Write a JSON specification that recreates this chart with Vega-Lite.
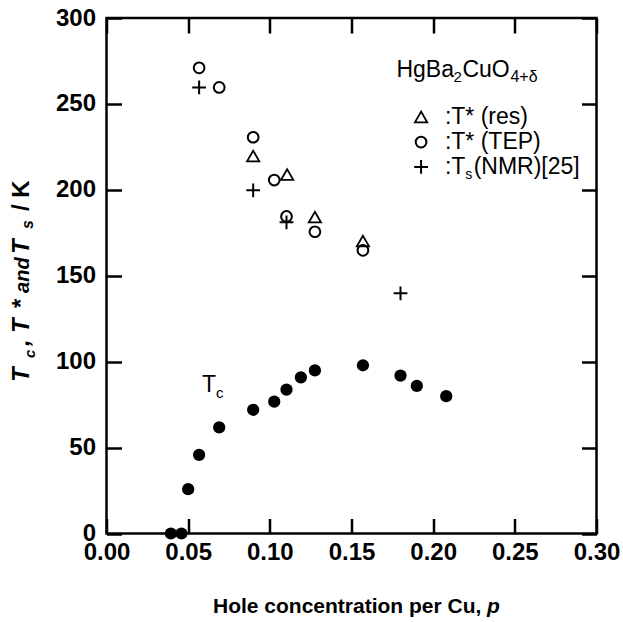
{
  "$schema": "https://vega.github.io/schema/vega-lite/v6.json",
  "autosize": {"type": "none"},
  "padding": {"left": 106.5, "top": 18, "right": 26.5, "bottom": 88.5},
  "width": 490,
  "height": 515.5,
  "background": "white",
  "config": {
    "view": {"stroke": "black", "strokeWidth": 2.5},
    "font": "Liberation Sans",
    "axis": {
      "domain": false, "grid": false, "tickColor": "black", "tickWidth": 2.5, "tickSize": -15,
      "labelFont": "Liberation Sans", "labelFontWeight": "bold", "labelFontSize": 24, "labelColor": "black",
      "labelFlush": false, "labelOverlap": false, "labelBound": false, "title": null
    }
  },
  "datasets": {
    "tc": [
      {"p": 0.0394, "T": 0}, {"p": 0.0459, "T": 0}, {"p": 0.050, "T": 25.8}, {"p": 0.0567, "T": 45.8},
      {"p": 0.069, "T": 61.8}, {"p": 0.0898, "T": 72}, {"p": 0.1027, "T": 76.7}, {"p": 0.1102, "T": 83.7},
      {"p": 0.119, "T": 90.9}, {"p": 0.1276, "T": 94.9}, {"p": 0.157, "T": 97.9}, {"p": 0.180, "T": 91.9},
      {"p": 0.190, "T": 85.9}, {"p": 0.208, "T": 79.9}
    ],
    "tep": [
      {"p": 0.0567, "T": 271}, {"p": 0.069, "T": 259.6}, {"p": 0.0898, "T": 230.6}, {"p": 0.1027, "T": 205.7},
      {"p": 0.1102, "T": 184.5}, {"p": 0.1276, "T": 175.6}, {"p": 0.157, "T": 164.8}
    ],
    "res": [
      {"p": 0.0898, "T": 219.7}, {"p": 0.1106, "T": 208.9}, {"p": 0.1276, "T": 184.1}, {"p": 0.157, "T": 170.2}
    ],
    "nmr": [
      {"p": 0.0567, "T": 259.6}, {"p": 0.0898, "T": 199.7}, {"p": 0.1102, "T": 181.1}, {"p": 0.180, "T": 139.8}
    ],
    "one": [{}]
  },
  "resolve": {"axis": {"x": "independent", "y": "independent"}},
  "layer": [
    {
      "data": {"name": "tc"},
      "mark": {"type": "circle", "size": 150, "color": "black", "opacity": 1},
      "encoding": {
        "x": {"field": "p", "type": "quantitative", "scale": {"domain": [0, 0.3], "nice": false, "zero": false},
              "axis": {"orient": "bottom", "values": [0, 0.05, 0.1, 0.15, 0.2, 0.25, 0.3], "format": ".2f", "labelPadding": 22}},
        "y": {"field": "T", "type": "quantitative", "scale": {"domain": [0, 300], "nice": false, "zero": false},
              "axis": {"orient": "left", "values": [0, 50, 100, 150, 200, 250, 300], "labelPadding": 26}}
      }
    },
    {
      "data": {"name": "res"},
      "mark": {"type": "point", "shape": "triangle-up", "filled": false, "color": "black", "strokeWidth": 1.8, "size": 150, "opacity": 1},
      "encoding": {
        "x": {"field": "p", "type": "quantitative", "scale": {"domain": [0, 0.3], "nice": false, "zero": false},
              "axis": {"orient": "top", "values": [0, 0.05, 0.1, 0.15, 0.2, 0.25, 0.3], "labels": false}},
        "y": {"field": "T", "type": "quantitative", "scale": {"domain": [0, 300], "nice": false, "zero": false},
              "axis": {"orient": "right", "values": [0, 50, 100, 150, 200, 250, 300], "labels": false}}
      }
    },
    {
      "data": {"name": "tep"},
      "mark": {"type": "point", "shape": "circle", "filled": false, "color": "black", "strokeWidth": 2, "size": 115, "opacity": 1},
      "encoding": {
        "x": {"field": "p", "type": "quantitative", "scale": {"domain": [0, 0.3], "nice": false, "zero": false}, "axis": null},
        "y": {"field": "T", "type": "quantitative", "scale": {"domain": [0, 300], "nice": false, "zero": false}, "axis": null}
      }
    },
    {
      "data": {"name": "nmr"},
      "mark": {"type": "point", "shape": "M-1,0H1M0,-1V1", "filled": false, "color": "black", "strokeWidth": 2, "size": 190, "opacity": 1},
      "encoding": {
        "x": {"field": "p", "type": "quantitative", "scale": {"domain": [0, 0.3], "nice": false, "zero": false}, "axis": null},
        "y": {"field": "T", "type": "quantitative", "scale": {"domain": [0, 300], "nice": false, "zero": false}, "axis": null}
      }
    },
    {
      "data": {"name": "one"},
      "mark": {"type": "point", "shape": "triangle-up", "filled": false, "color": "black", "strokeWidth": 1.8, "size": 150, "opacity": 1},
      "encoding": {
        "x": {"datum": 0.1926, "type": "quantitative", "scale": {"domain": [0, 0.3], "nice": false, "zero": false}, "axis": null},
        "y": {"datum": 242.4, "type": "quantitative", "scale": {"domain": [0, 300], "nice": false, "zero": false}, "axis": null}
      }
    },
    {
      "data": {"name": "one"},
      "mark": {"type": "point", "shape": "circle", "filled": false, "color": "black", "strokeWidth": 2, "size": 115, "opacity": 1},
      "encoding": {
        "x": {"datum": 0.1926, "type": "quantitative", "scale": {"domain": [0, 0.3], "nice": false, "zero": false}, "axis": null},
        "y": {"datum": 227.8, "type": "quantitative", "scale": {"domain": [0, 300], "nice": false, "zero": false}, "axis": null}
      }
    },
    {
      "data": {"name": "one"},
      "mark": {"type": "point", "shape": "M-1,0H1M0,-1V1", "filled": false, "color": "black", "strokeWidth": 2, "size": 190, "opacity": 1},
      "encoding": {
        "x": {"datum": 0.1926, "type": "quantitative", "scale": {"domain": [0, 0.3], "nice": false, "zero": false}, "axis": null},
        "y": {"datum": 213.3, "type": "quantitative", "scale": {"domain": [0, 300], "nice": false, "zero": false}, "axis": null}
      }
    },
    {
      "data": {"name": "one"},
      "mark": {"type": "text", "text": "HgBa", "align": "left", "baseline": "alphabetic", "fontSize": 23, "color": "black"},
      "encoding": {
        "x": {"datum": 0.1775, "type": "quantitative", "scale": {"domain": [0, 0.3], "nice": false, "zero": false}, "axis": null},
        "y": {"datum": 265.7, "type": "quantitative", "scale": {"domain": [0, 300], "nice": false, "zero": false}, "axis": null}
      }
    },
    {
      "data": {"name": "one"},
      "mark": {"type": "text", "text": "2", "align": "left", "baseline": "alphabetic", "fontSize": 15, "color": "black"},
      "encoding": {
        "x": {"datum": 0.2124, "type": "quantitative", "scale": {"domain": [0, 0.3], "nice": false, "zero": false}, "axis": null},
        "y": {"datum": 262.8, "type": "quantitative", "scale": {"domain": [0, 300], "nice": false, "zero": false}, "axis": null}
      }
    },
    {
      "data": {"name": "one"},
      "mark": {"type": "text", "text": "CuO", "align": "left", "baseline": "alphabetic", "fontSize": 23, "color": "black"},
      "encoding": {
        "x": {"datum": 0.2179, "type": "quantitative", "scale": {"domain": [0, 0.3], "nice": false, "zero": false}, "axis": null},
        "y": {"datum": 265.7, "type": "quantitative", "scale": {"domain": [0, 300], "nice": false, "zero": false}, "axis": null}
      }
    },
    {
      "data": {"name": "one"},
      "mark": {"type": "text", "text": "4+δ", "align": "left", "baseline": "alphabetic", "fontSize": 16, "color": "black"},
      "encoding": {
        "x": {"datum": 0.2473, "type": "quantitative", "scale": {"domain": [0, 0.3], "nice": false, "zero": false}, "axis": null},
        "y": {"datum": 262.8, "type": "quantitative", "scale": {"domain": [0, 300], "nice": false, "zero": false}, "axis": null}
      }
    },
    {
      "data": {"name": "one"},
      "mark": {"type": "text", "text": ":T* (res)", "align": "left", "baseline": "alphabetic", "fontSize": 23, "color": "black"},
      "encoding": {
        "x": {"datum": 0.2072, "type": "quantitative", "scale": {"domain": [0, 0.3], "nice": false, "zero": false}, "axis": null},
        "y": {"datum": 238.3, "type": "quantitative", "scale": {"domain": [0, 300], "nice": false, "zero": false}, "axis": null}
      }
    },
    {
      "data": {"name": "one"},
      "mark": {"type": "text", "text": ":T* (TEP)", "align": "left", "baseline": "alphabetic", "fontSize": 23, "color": "black"},
      "encoding": {
        "x": {"datum": 0.2072, "type": "quantitative", "scale": {"domain": [0, 0.3], "nice": false, "zero": false}, "axis": null},
        "y": {"datum": 223.8, "type": "quantitative", "scale": {"domain": [0, 300], "nice": false, "zero": false}, "axis": null}
      }
    },
    {
      "data": {"name": "one"},
      "mark": {"type": "text", "text": ":T", "align": "left", "baseline": "alphabetic", "fontSize": 23, "color": "black"},
      "encoding": {
        "x": {"datum": 0.2072, "type": "quantitative", "scale": {"domain": [0, 0.3], "nice": false, "zero": false}, "axis": null},
        "y": {"datum": 209.2, "type": "quantitative", "scale": {"domain": [0, 300], "nice": false, "zero": false}, "axis": null}
      }
    },
    {
      "data": {"name": "one"},
      "mark": {"type": "text", "text": "s", "align": "left", "baseline": "alphabetic", "fontSize": 14, "color": "black"},
      "encoding": {
        "x": {"datum": 0.2197, "type": "quantitative", "scale": {"domain": [0, 0.3], "nice": false, "zero": false}, "axis": null},
        "y": {"datum": 206.3, "type": "quantitative", "scale": {"domain": [0, 300], "nice": false, "zero": false}, "axis": null}
      }
    },
    {
      "data": {"name": "one"},
      "mark": {"type": "text", "text": "(NMR)[25]", "align": "left", "baseline": "alphabetic", "fontSize": 23, "color": "black"},
      "encoding": {
        "x": {"datum": 0.2248, "type": "quantitative", "scale": {"domain": [0, 0.3], "nice": false, "zero": false}, "axis": null},
        "y": {"datum": 209.2, "type": "quantitative", "scale": {"domain": [0, 300], "nice": false, "zero": false}, "axis": null}
      }
    },
    {
      "data": {"name": "one"},
      "mark": {"type": "text", "text": "T", "align": "left", "baseline": "alphabetic", "fontSize": 23, "color": "black"},
      "encoding": {
        "x": {"datum": 0.0585, "type": "quantitative", "scale": {"domain": [0, 0.3], "nice": false, "zero": false}, "axis": null},
        "y": {"datum": 82.3, "type": "quantitative", "scale": {"domain": [0, 300], "nice": false, "zero": false}, "axis": null}
      }
    },
    {
      "data": {"name": "one"},
      "mark": {"type": "text", "text": "c", "align": "left", "baseline": "alphabetic", "fontSize": 15, "color": "black"},
      "encoding": {
        "x": {"datum": 0.0670, "type": "quantitative", "scale": {"domain": [0, 0.3], "nice": false, "zero": false}, "axis": null},
        "y": {"datum": 78.9, "type": "quantitative", "scale": {"domain": [0, 300], "nice": false, "zero": false}, "axis": null}
      }
    },
    {
      "data": {"name": "one"},
      "mark": {"type": "text", "text": "Hole concentration per Cu,", "align": "left", "baseline": "alphabetic", "fontSize": 21, "fontWeight": "bold", "color": "black"},
      "encoding": {
        "x": {"datum": 0.0652, "type": "quantitative", "scale": {"domain": [0, 0.3], "nice": false, "zero": false}, "axis": null},
        "y": {"datum": -46.3, "type": "quantitative", "scale": {"domain": [0, 300], "nice": false, "zero": false}, "axis": null}
      }
    },
    {
      "data": {"name": "one"},
      "mark": {"type": "text", "text": "p", "align": "left", "baseline": "alphabetic", "fontSize": 21, "fontWeight": "bold", "fontStyle": "italic", "color": "black"},
      "encoding": {
        "x": {"datum": 0.2330, "type": "quantitative", "scale": {"domain": [0, 0.3], "nice": false, "zero": false}, "axis": null},
        "y": {"datum": -46.3, "type": "quantitative", "scale": {"domain": [0, 300], "nice": false, "zero": false}, "axis": null}
      }
    },
    {
      "data": {"name": "one"},
      "mark": {"type": "text", "text": "T", "angle": 270, "align": "left", "baseline": "alphabetic", "fontSize": 24, "fontWeight": "bold", "fontStyle": "italic", "color": "black"},
      "encoding": {
        "x": {"datum": -0.04745, "type": "quantitative", "scale": {"domain": [0, 0.3], "nice": false, "zero": false}, "axis": null},
        "y": {"datum": 88.2, "type": "quantitative", "scale": {"domain": [0, 300], "nice": false, "zero": false}, "axis": null}
      }
    },
    {
      "data": {"name": "one"},
      "mark": {"type": "text", "text": "c", "angle": 270, "align": "left", "baseline": "alphabetic", "fontSize": 15, "fontWeight": "bold", "fontStyle": "italic", "color": "black"},
      "encoding": {
        "x": {"datum": -0.0438, "type": "quantitative", "scale": {"domain": [0, 0.3], "nice": false, "zero": false}, "axis": null},
        "y": {"datum": 102.1, "type": "quantitative", "scale": {"domain": [0, 300], "nice": false, "zero": false}, "axis": null}
      }
    },
    {
      "data": {"name": "one"},
      "mark": {"type": "text", "text": ",", "angle": 270, "align": "left", "baseline": "alphabetic", "fontSize": 24, "fontWeight": "bold", "fontStyle": "italic", "color": "black"},
      "encoding": {
        "x": {"datum": -0.04745, "type": "quantitative", "scale": {"domain": [0, 0.3], "nice": false, "zero": false}, "axis": null},
        "y": {"datum": 109.1, "type": "quantitative", "scale": {"domain": [0, 300], "nice": false, "zero": false}, "axis": null}
      }
    },
    {
      "data": {"name": "one"},
      "mark": {"type": "text", "text": "T", "angle": 270, "align": "left", "baseline": "alphabetic", "fontSize": 24, "fontWeight": "bold", "fontStyle": "italic", "color": "black"},
      "encoding": {
        "x": {"datum": -0.04745, "type": "quantitative", "scale": {"domain": [0, 0.3], "nice": false, "zero": false}, "axis": null},
        "y": {"datum": 116.7, "type": "quantitative", "scale": {"domain": [0, 300], "nice": false, "zero": false}, "axis": null}
      }
    },
    {
      "data": {"name": "one"},
      "mark": {"type": "text", "text": "*", "angle": 270, "align": "left", "baseline": "alphabetic", "fontSize": 24, "fontWeight": "bold", "fontStyle": "italic", "color": "black"},
      "encoding": {
        "x": {"datum": -0.04745, "type": "quantitative", "scale": {"domain": [0, 0.3], "nice": false, "zero": false}, "axis": null},
        "y": {"datum": 130.6, "type": "quantitative", "scale": {"domain": [0, 300], "nice": false, "zero": false}, "axis": null}
      }
    },
    {
      "data": {"name": "one"},
      "mark": {"type": "text", "text": "and", "angle": 270, "align": "left", "baseline": "alphabetic", "fontSize": 20, "fontWeight": "bold", "fontStyle": "italic", "color": "black"},
      "encoding": {
        "x": {"datum": -0.04745, "type": "quantitative", "scale": {"domain": [0, 0.3], "nice": false, "zero": false}, "axis": null},
        "y": {"datum": 140.0, "type": "quantitative", "scale": {"domain": [0, 300], "nice": false, "zero": false}, "axis": null}
      }
    },
    {
      "data": {"name": "one"},
      "mark": {"type": "text", "text": "T", "angle": 270, "align": "left", "baseline": "alphabetic", "fontSize": 24, "fontWeight": "bold", "fontStyle": "italic", "color": "black"},
      "encoding": {
        "x": {"datum": -0.04745, "type": "quantitative", "scale": {"domain": [0, 0.3], "nice": false, "zero": false}, "axis": null},
        "y": {"datum": 162.7, "type": "quantitative", "scale": {"domain": [0, 300], "nice": false, "zero": false}, "axis": null}
      }
    },
    {
      "data": {"name": "one"},
      "mark": {"type": "text", "text": "s", "angle": 270, "align": "left", "baseline": "alphabetic", "fontSize": 16, "fontWeight": "bold", "fontStyle": "italic", "color": "black"},
      "encoding": {
        "x": {"datum": -0.0450, "type": "quantitative", "scale": {"domain": [0, 0.3], "nice": false, "zero": false}, "axis": null},
        "y": {"datum": 177.2, "type": "quantitative", "scale": {"domain": [0, 300], "nice": false, "zero": false}, "axis": null}
      }
    },
    {
      "data": {"name": "one"},
      "mark": {"type": "text", "text": "/ K", "angle": 270, "align": "left", "baseline": "alphabetic", "fontSize": 24, "fontWeight": "bold", "color": "black"},
      "encoding": {
        "x": {"datum": -0.04745, "type": "quantitative", "scale": {"domain": [0, 0.3], "nice": false, "zero": false}, "axis": null},
        "y": {"datum": 187.7, "type": "quantitative", "scale": {"domain": [0, 300], "nice": false, "zero": false}, "axis": null}
      }
    }
  ]
}
